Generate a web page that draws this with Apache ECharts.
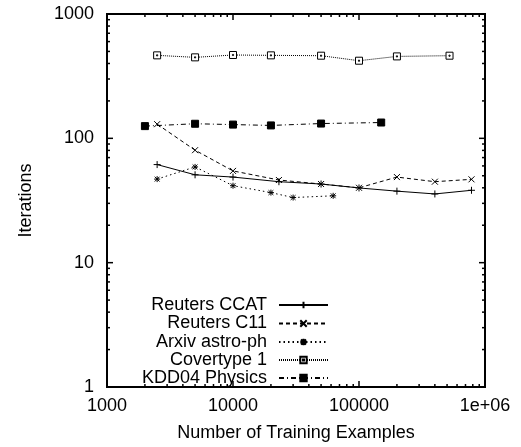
<!DOCTYPE html>
<html>
<head>
<meta charset="utf-8">
<script src="https://cdn.jsdelivr.net/npm/echarts@6/dist/echarts.min.js"></script>
<style>html,body{margin:0;padding:0;background:#fff;}#c{width:521px;height:447px;}</style>
</head>
<body>
<div id="c"></div>
<script>
// ---- data ----
const reutersX = [2500, 5000, 10000, 23149, 50000, 100000, 200000, 400000, 781265];
const ccatY = [61.5, 50.9, 48.8, 44.8, 42.9, 39.9, 37.6, 35.7, 38.2];
const c11Y = [130, 80.3, 54.7, 46.2, 42.9, 40, 48.8, 44.8, 46.8];
const arxivX = [2500, 5000, 10000, 20000, 30000, 62369];
const arxivY = [47, 58.9, 41.6, 36.6, 33.4, 34.5];
const covX = [2500, 5000, 10000, 20000, 50000, 100000, 200000, 522911];
const covY = [465, 448, 468, 465, 462, 421, 456, 462];
const kddX = [2000, 5000, 10000, 20000, 50000, 150000];
const kddY = [125.4, 131, 129, 127, 131.5, 134];
const seriesNames = ['Reuters CCAT', 'Reuters C11', 'Arxiv astro-ph', 'Covertype 1', 'KDD04 Physics'];
const xTicks = [1000, 10000, 100000, 1000000];
const xTickLabels = ['1000', '10000', '100000', '1e+06'];
const yTicks = [1, 10, 100, 1000];
const yTickLabels = ['1', '10', '100', '1000'];
const minorMult = [2, 3, 4, 5, 6, 7, 8, 9];

const zip = (xs, ys) => xs.map((x, i) => [x, ys[i]]);
const FONT = 'Liberation Sans, Arial, Helvetica, sans-serif';
const FS = 18;

// tick positions (axis decoration, not data)
const xTickData = [];
xTicks.forEach((d, i) => { xTickData.push([d, 1, 1]); if (i < xTicks.length - 1) minorMult.forEach(m => xTickData.push([d * m, 1, 0])); });
const yTickData = [];
yTicks.forEach((d, i) => { yTickData.push([1000, d, 1]); if (i < yTicks.length - 1) minorMult.forEach(m => yTickData.push([1000, d * m, 0])); });

function tickRender(isX) {
  return function (params, api) {
    const cs = params.coordSys;
    const major = api.value(2) === 1;
    const len = major ? 6 : 3;
    const p = api.coord([api.value(0), api.value(1)]);
    const style = { stroke: '#000', lineWidth: 1.5 };
    if (isX) {
      const x = p[0];
      const y0 = cs.y + cs.height, y1 = cs.y;
      return { type: 'group', children: [
        { type: 'line', shape: { x1: x, y1: y0, x2: x, y2: y0 - len }, style: style },
        { type: 'line', shape: { x1: x, y1: y1, x2: x, y2: y1 + len }, style: style }
      ]};
    } else {
      const y = p[1];
      const x0 = cs.x, x1 = cs.x + cs.width;
      return { type: 'group', children: [
        { type: 'line', shape: { x1: x0, y1: y, x2: x0 + len, y2: y }, style: style },
        { type: 'line', shape: { x1: x1, y1: y, x2: x1 - len, y2: y }, style: style }
      ]};
    }
  };
}

const symPlus = 'path://M0,5L10,5M5,0L5,10';
const symCross = 'path://M0,0L10,10M10,0L0,10';
const symStar = 'path://M0,5L10,5M5,0L5,10M1,1L9,9M9,1L1,9';
const symOpenSq = 'path://M0,0L10,0L10,10L0,10ZM4.2,4.2L5.8,4.2L5.8,5.8L4.2,5.8Z';

const lineSeries = [
  { name: seriesNames[0], data: zip(reutersX, ccatY), symbol: symPlus, symbolSize: 7, dash: 'solid', fill: '#000' },
  { name: seriesNames[1], data: zip(reutersX, c11Y), symbol: symCross, symbolSize: 6, dash: [4, 3], fill: '#000' },
  { name: seriesNames[2], data: zip(arxivX, arxivY), symbol: symStar, symbolSize: 6, dash: [1.5, 3], fill: '#000' },
  { name: seriesNames[3], data: zip(covX, covY), symbol: symOpenSq, symbolSize: 7, dash: [1, 1], fill: '#fff' },
  { name: seriesNames[4], data: zip(kddX, kddY), symbol: 'rect', symbolSize: 7, dash: [5, 3, 1, 3], fill: '#000' }
].map(s => ({
  type: 'line', name: s.name, data: s.data, symbol: s.symbol, symbolSize: s.symbolSize,
  showAllSymbol: true, animation: false, z: 3,
  lineStyle: { color: '#000', width: 1, type: s.dash },
  itemStyle: { color: s.fill, borderColor: '#000', borderWidth: 1 },
  emphasis: { disabled: true }
}));

const legendTops = [296, 314.5, 333, 351, 369];
const legends = seriesNames.map((n, i) => ({
  data: [n], right: 192, top: legendTops[i], orient: 'vertical', align: 'right',
  padding: 0, itemWidth: 49, itemHeight: 8, selectedMode: false,
  textStyle: { fontFamily: FONT, fontSize: FS, color: '#000', padding: [0, 7, 0, 0] }
}));

const chart = echarts.init(document.getElementById('c'), null, { renderer: 'canvas' });
chart.setOption({
  animation: false,
  backgroundColor: '#fff',
  grid: { left: 107, right: 36, top: 14, bottom: 55, show: true, borderColor: '#000', borderWidth: 2, backgroundColor: 'transparent' },
  legend: legends,
  xAxis: {
    type: 'log', logBase: 10, min: 1000, max: 1000000,
    name: 'Number of Training Examples', nameLocation: 'middle', nameGap: 37,
    nameTextStyle: { fontFamily: FONT, fontSize: FS, color: '#000' },
    axisLine: { show: true, lineStyle: { color: '#000', width: 2 } },
    axisTick: { show: false }, splitLine: { show: false }, minorTick: { show: false },
    axisLabel: { fontFamily: FONT, fontSize: FS, color: '#000', margin: 10,
      formatter: v => { const i = Math.round(Math.log10(v)) - 3; return xTickLabels[i] || ''; } }
  },
  yAxis: {
    type: 'log', logBase: 10, min: 1, max: 1000,
    name: 'Iterations', nameLocation: 'middle', nameGap: 72, nameRotate: 90,
    nameTextStyle: { fontFamily: FONT, fontSize: FS, color: '#000' },
    axisLine: { show: true, lineStyle: { color: '#000', width: 2 } },
    axisTick: { show: false }, splitLine: { show: false }, minorTick: { show: false },
    axisLabel: { fontFamily: FONT, fontSize: FS, color: '#000', margin: 13,
      formatter: v => { const i = Math.round(Math.log10(v)); return yTickLabels[i] || ''; } }
  },
  series: lineSeries.concat([
    { type: 'custom', name: '_xt', data: xTickData, renderItem: tickRender(true), clip: false, silent: true, z: 4, animation: false },
    { type: 'custom', name: '_yt', data: yTickData, renderItem: tickRender(false), clip: false, silent: true, z: 4, animation: false }
  ])
});
</script>
</body>
</html>
